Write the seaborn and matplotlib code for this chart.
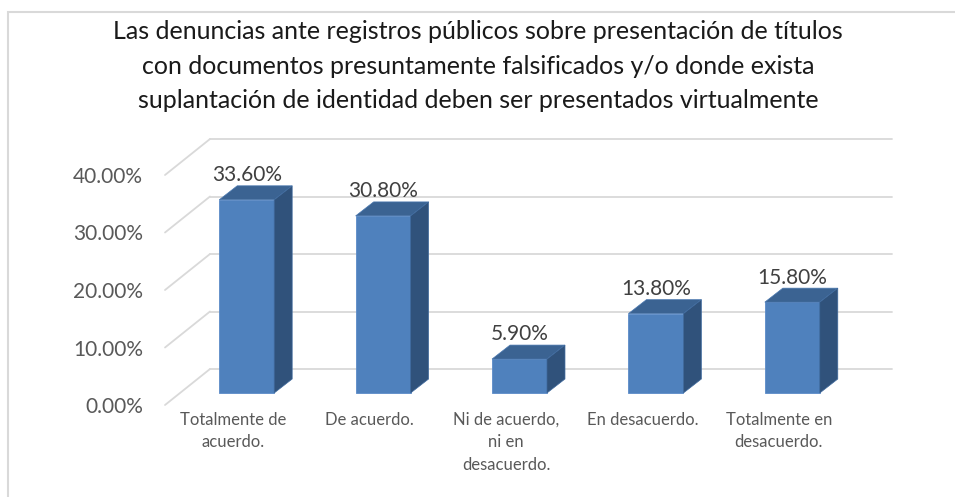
import matplotlib
matplotlib.use('Agg')
import matplotlib.pyplot as plt
from matplotlib.patches import Polygon, Rectangle
import seaborn as sns
import pandas as pd

# Datos del gráfico
categorias = ['Totalmente de\nacuerdo.', 'De acuerdo.', 'Ni de acuerdo,\nni en\ndesacuerdo.',
              'En desacuerdo.', 'Totalmente en\ndesacuerdo.']
porcentajes = [33.6, 30.8, 5.9, 13.8, 15.8]
ticks_y = [0, 10, 20, 30, 40]
titulo = ('Las denuncias ante registros públicos sobre presentación de títulos\n'
          'con documentos presuntamente falsificados y/o donde exista\n'
          'suplantación de identidad deben ser presentados virtualmente')

sns.set_theme(style='white')
plt.rcParams['font.family'] = ['Lato', 'DejaVu Sans']

W, H = 955, 497
fig = plt.figure(figsize=(W / 100, H / 100), dpi=100)
# ejes: piso frontal de x=165 a 847 px, 0% en y=405 px, 40% en y=175 px
ax = fig.add_axes([165 / W, (H - 405) / H, 682 / W, 230 / H])

df = pd.DataFrame({'cat': categorias, 'pct': porcentajes})
sns.barplot(data=df, x='cat', y='pct', color='#4f81bd', width=0.403,
            saturation=1, edgecolor='#5b8bc8', linewidth=0.6, ax=ax, zorder=3)

ax.set_xlim(-0.5, 4.5)
ax.set_ylim(0, 40)

# escalas px por unidad para la profundidad 3D
px_x = 682 / 5
px_y = 230 / 40
wall_dx, wall_dy = 45 / px_x, 36 / px_y
bar_ox, bar_oy = 13.5 / px_x, 12 / px_y
bar_dx, bar_dy = 18 / px_x, 14 / px_y

grid_col = '#d9d9d9'
for t in ticks_y:
    ax.plot([-0.5 + wall_dx, 4.5 + wall_dx], [t + wall_dy, t + wall_dy],
            color=grid_col, lw=1.3, clip_on=False, zorder=1)
    ax.plot([-0.5, -0.5 + wall_dx], [t, t + wall_dy],
            color=grid_col, lw=1.3, clip_on=False, zorder=1)

for p, v in zip(ax.patches, porcentajes):
    p.set_x(p.get_x() + bar_ox)
    p.set_y(bar_oy)
    p.set_clip_on(False)
    x0, x1 = p.get_x(), p.get_x() + p.get_width()
    y0, y1 = p.get_y(), p.get_y() + p.get_height()
    top = Polygon([(x0, y1), (x1, y1), (x1 + bar_dx, y1 + bar_dy), (x0 + bar_dx, y1 + bar_dy)],
                  closed=True, facecolor='#3b6392', edgecolor='#4a78b0', lw=0.5,
                  clip_on=False, zorder=3)
    side = Polygon([(x1, y0), (x1 + bar_dx, y0 + bar_dy), (x1 + bar_dx, y1 + bar_dy), (x1, y1)],
                   closed=True, facecolor='#30527b', edgecolor='#3f6a9e', lw=0.5,
                   clip_on=False, zorder=3)
    ax.add_patch(top)
    ax.add_patch(side)
    ax.text((x0 + x1) / 2, y1 + bar_dy + 0.1, f'{v:.2f}%', ha='center', va='bottom',
            fontsize=15, color='#404040', zorder=4)

ax.set_yticks(ticks_y)
ax.set_yticklabels([f'{t:.2f}%' for t in ticks_y], fontsize=15, color='#595959')
ax.set_xticks(range(len(categorias)))
ax.set_xticklabels(categorias, fontsize=12, color='#595959', linespacing=1.5)
ax.tick_params(axis='y', length=0, pad=16)
ax.tick_params(axis='x', length=0, pad=5)
ax.set_xlabel('')
ax.set_ylabel('')
for s in ax.spines.values():
    s.set_visible(False)
ax.set_facecolor('none')

fig.text(478 / W, 1 - 66 / H, titulo, ha='center', va='center', fontsize=18,
         color='#1a1a1a', linespacing=1.62)

fig.patches.append(Rectangle((8 / W, -0.05), 1.1, (H - 12) / H + 0.05, transform=fig.transFigure,
                             fill=False, edgecolor='#d9d9d9', lw=1.5, figure=fig))

fig.savefig('out.png', dpi=100)
